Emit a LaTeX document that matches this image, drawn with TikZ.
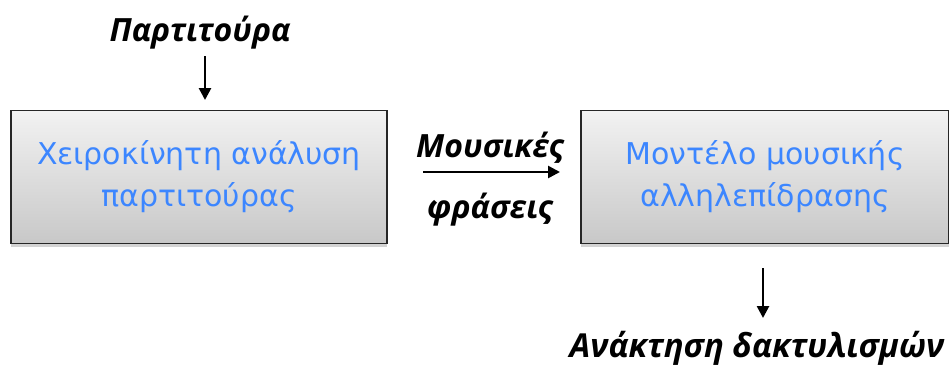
\documentclass[tikz,border=0pt]{standalone}
\usepackage{fontspec}
\setmainfont{DejaVu Sans}
\newfontfamily\lblfont{Open Sans}
\usetikzlibrary{arrows.meta,shadows}
\definecolor{boxblue}{RGB}{60,134,255}
\definecolor{boxtop}{RGB}{242,242,242}
\definecolor{boxbot}{RGB}{200,200,200}
\begin{document}
\begin{tikzpicture}[x=1pt,y=-1pt,
  procbox/.style={draw=black!85,line width=1.8pt,top color=boxtop,bottom color=boxbot,
    minimum width=376pt,minimum height=133pt,align=center,text=boxblue,
    font=\fontsize{30}{42}\selectfont,
    drop shadow={shadow xshift=0pt,shadow yshift=-3pt,opacity=0.35}},
  lbl/.style={font=\lblfont\bfseries\itshape\fontsize{32}{36}\selectfont},
  arr/.style={-{Triangle[length=12pt,width=12pt]},line width=2.6pt}]
\useasboundingbox (0,0) rectangle (949,365);
\node[procbox] (b1) at (199,177) {Χειροκίνητη ανάλυση\\παρτιτούρα\smash{ς}};
\node[procbox,minimum width=368pt] (b2) at (765,177) {Μοντέλο μουσικής\\αλληλεπίδρασης};
\node[lbl] (t1) at (200,33) {Παρτιτούρα};
\coordinate (a1s) at (205,56);
\coordinate (a1e) at (205,100);
\draw[arr] (a1s) -- (a1e);
\coordinate (a2s) at (423,172);
\coordinate (a2e) at (560,172);
\draw[arr] (a2s) -- (a2e);
\node[lbl] (m1) at (490,148) {Μουσικές};
\node[lbl] (m2) at (490,210) {φράσεις};
\coordinate (a3s) at (763,268);
\coordinate (a3e) at (763,318);
\draw[arr] (a3s) -- (a3e);
\node[lbl,font=\lblfont\bfseries\itshape\fontsize{33}{36}\selectfont] (t2) at (757,348) {Ανάκτηση δακτυλισμών};
\end{tikzpicture}
\end{document}
